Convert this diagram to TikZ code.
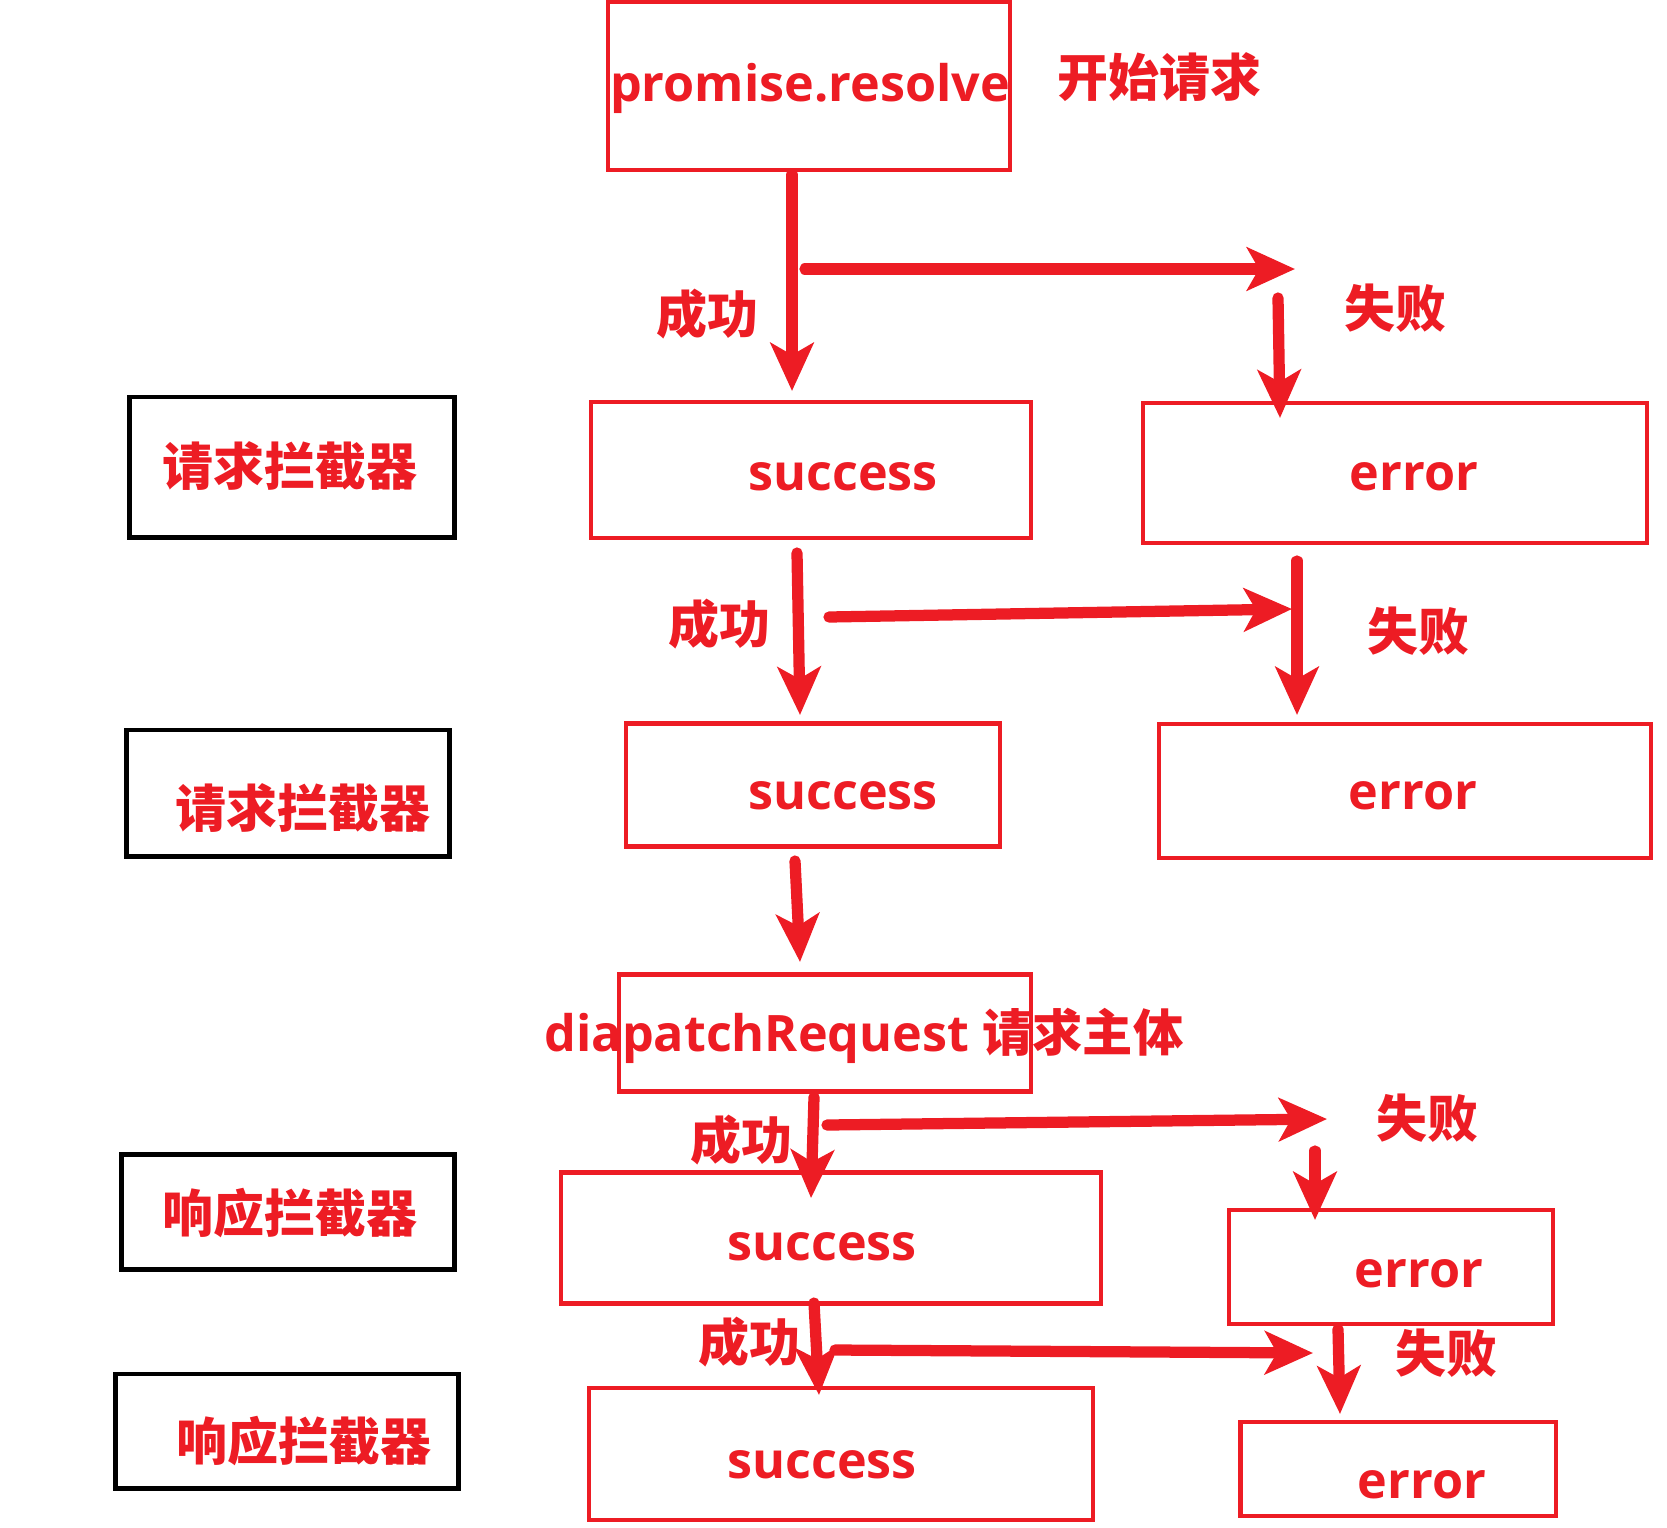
\documentclass[tikz,border=0pt]{standalone}
\usepackage{fontspec}
\setmainfont{Open Sans}
\newfontfamily\cjk{Noto Sans CJK SC}
\usetikzlibrary{positioning, calc, arrows.meta}
\definecolor{flowred}{RGB}{237,28,36}
\tikzstyle{Flow} = [
%thick red arrow with a big head:
line width=3.2pt, draw=flowred, line cap=round,
-{Stealth[length=4.8mm, width=4.3mm, inset=1.2mm]}
]

\begin{document}
\begin{tikzpicture}[x=0.01cm, y=-0.01cm,
		redbox/.style = {rectangle, draw=flowred, line width=1.2pt, inner sep=0pt},
		blackbox/.style = {rectangle, draw=black, line width=1.4pt, inner sep=0pt},
		word/.style = {text=flowred, font=\bfseries\fontsize{14.3}{17}\selectfont, inner sep=0pt},
		hanzi/.style = {text=flowred, font=\cjk\bfseries\fontsize{14.5}{17}\selectfont, inner sep=0pt},
	]
	\useasboundingbox (0,0) rectangle (1667,1527);

	% boxes
	\node[redbox, minimum width=4.02cm, minimum height=1.68cm] (promise) at (809,86) {};
	\node[blackbox, minimum width=3.25cm, minimum height=1.40cm] (req1) at (292,467) {};
	\node[redbox, minimum width=4.39cm, minimum height=1.36cm] (succ1) at (811,470) {};
	\node[redbox, minimum width=5.04cm, minimum height=1.40cm] (err1) at (1395,473) {};
	\node[blackbox, minimum width=3.23cm, minimum height=1.26cm] (req2) at (288,793) {};
	\node[redbox, minimum width=3.74cm, minimum height=1.23cm] (succ2) at (813,785) {};
	\node[redbox, minimum width=4.91cm, minimum height=1.34cm] (err2) at (1405,791) {};
	\node[redbox, minimum width=4.12cm, minimum height=1.17cm] (dispatch) at (825,1033) {};
	\node[blackbox, minimum width=3.32cm, minimum height=1.15cm] (resp1) at (288,1212) {};
	\node[redbox, minimum width=5.40cm, minimum height=1.31cm] (succ3) at (831,1238) {};
	\node[redbox, minimum width=3.24cm, minimum height=1.14cm] (err3) at (1391,1267) {};
	\node[blackbox, minimum width=3.43cm, minimum height=1.14cm] (resp2) at (287,1431) {};
	\node[redbox, minimum width=5.04cm, minimum height=1.32cm] (succ4) at (841,1454) {};
	\node[redbox, minimum width=3.15cm, minimum height=0.94cm] (err4) at (1398,1469) {};

	% texts
	\node[word] (promisetxt) at (810,88) {promise.resolve};
	\node[hanzi] (start) at (1159,77) {开始请求};
	\node[hanzi] (req1txt) at (290,466) {请求拦截器};
	\node[hanzi] (req2txt) at (303,808) {请求拦截器};
	\node[hanzi] (resp1txt) at (290,1213) {响应拦截器};
	\node[hanzi] (resp2txt) at (304,1441) {响应拦截器};
	\node[word] (succ1txt) at (843,477) {success};
	\node[word] (err1txt) at (1414,477) {error};
	\node[word] (succ2txt) at (843,796) {success};
	\node[word] (err2txt) at (1413,796) {error};
	\node[word] (dispatchtxt) at (864,1036) {diapatchRequest {\cjk 请求主体}};
	\node[word] (succ3txt) at (822,1247) {success};
	\node[word] (err3txt) at (1419,1274) {error};
	\node[word] (succ4txt) at (822,1465) {success};
	\node[word] (err4txt) at (1422,1485) {error};

	\node[hanzi] (ok1) at (707,314) {成功};
	\node[hanzi] (ok2) at (719,624) {成功};
	\node[hanzi] (ok3) at (741,1140) {成功};
	\node[hanzi] (ok4) at (749,1342) {成功};
	\node[hanzi] (fail1) at (1395,308) {失败};
	\node[hanzi] (fail2) at (1418,631) {失败};
	\node[hanzi] (fail3) at (1427,1118) {失败};
	\node[hanzi] (fail4) at (1446,1353) {失败};

	% arrow ends
	\coordinate (a1s) at (792,175); \coordinate (a1e) at (792,391);
	\coordinate (h1s) at (805,269); \coordinate (h1e) at (1295,269);
	\coordinate (d1s) at (1278,298); \coordinate (d1e) at (1280,418);
	\coordinate (a2s) at (797,553); \coordinate (a2e) at (800,715);
	\coordinate (h2s) at (829,617); \coordinate (h2e) at (1292,609);
	\coordinate (d2s) at (1297,561); \coordinate (d2e) at (1297,715);
	\coordinate (a3s) at (795,861); \coordinate (a3e) at (800,962);
	\coordinate (a4s) at (814,1097); \coordinate (a4e) at (811,1198);
	\coordinate (h3s) at (827,1125); \coordinate (h3e) at (1327,1119);
	\coordinate (d3s) at (1315,1151); \coordinate (d3e) at (1315,1220);
	\coordinate (a5s) at (814,1303); \coordinate (a5e) at (819,1395);
	\coordinate (h4s) at (835,1350); \coordinate (h4e) at (1313,1353);
	\coordinate (d4s) at (1338,1329); \coordinate (d4e) at (1340,1414);

	\draw[Flow](a1s)--(a1e);
	\draw[Flow](h1s)--(h1e);
	\draw[Flow](d1s)--(d1e);
	\draw[Flow](a2s)--(a2e);
	\draw[Flow](h2s)--(h2e);
	\draw[Flow](d2s)--(d2e);
	\draw[Flow](a3s)--(a3e);
	\draw[Flow](a4s)--(a4e);
	\draw[Flow](h3s)--(h3e);
	\draw[Flow](d3s)--(d3e);
	\draw[Flow](a5s)--(a5e);
	\draw[Flow](h4s)--(h4e);
	\draw[Flow](d4s)--(d4e);

\end{tikzpicture}
\end{document}
